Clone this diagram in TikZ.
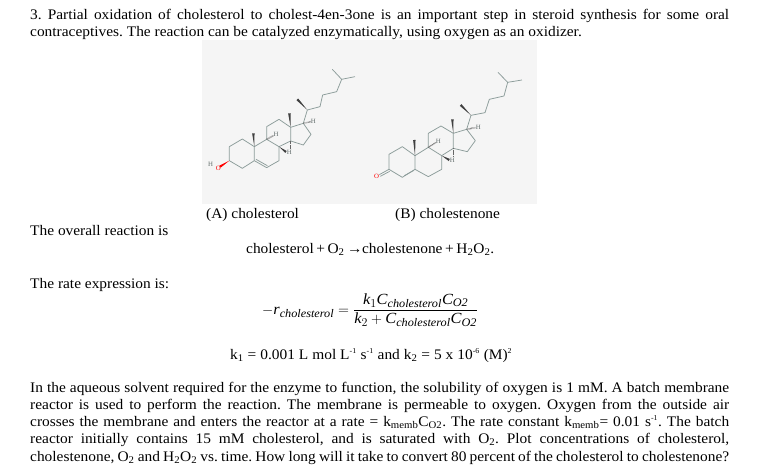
\documentclass[tikz,border=0pt]{standalone}
\usepackage{amsmath}
\usepackage{fontspec}
\setmainfont[FakeStretch=1.055]{Liberation Serif}
\usetikzlibrary{calc}

\DeclareMathSizes{15.5}{15.5}{11.6}{9}
\definecolor{panelgrey}{HTML}{F5F5F5}
\definecolor{bondgrey}{HTML}{8C9C9A}

\tikzset{
  txt/.style={anchor=base west,inner sep=0pt,font=\fontsize{14.6}{17}\selectfont},
  bond/.style={draw=bondgrey,line width=0.75pt,line join=round},
  hashbond/.style={draw=black!60,line width=1.4pt,dash pattern=on 0.5pt off 0.7pt},
  atom/.style={inner sep=0pt,font=\fontsize{6.5}{6.5}\selectfont}
}
\newcommand{\wedgebond}[3][black!75]{
  \fill[#1] (#2) -- ($(#3)!1.2pt!90:(#2)$) -- ($(#3)!1.2pt!-90:(#2)$) -- cycle;
}
\newcommand{\fitline}[3]{
  \node[txt] (#1) at (30,#2) {\makebox[699pt][s]{#3}};
}
\newcommand{\sub}[1]{\textsubscript{#1}}
\newcommand{\expo}[1]{\textsuperscript{\fontsize{7.5}{8}\selectfont #1}}
\frenchspacing

\begin{document}
\begin{tikzpicture}[x=1pt,y=-1pt]
  \useasboundingbox (0,0) rectangle (771,474);
  \fill[panelgrey] (202,40) rectangle (537,204);

  \fitline{l1}{19}{3. Partial oxidation of cholesterol to cholest-4en-3one is an important step in steroid synthesis for some oral}
  \node[txt] (l2) at (30,36) {contraceptives. The reaction can be catalyzed enzymatically, using oxygen as an oxidizer.};

  % cholesterol
  \begin{scope}[shift={(200,40)},x=0.3333pt,y=-0.3333pt]
  \draw[bond] (88,362) -- (127,385) -- (163,362) -- (163,320) -- (127,297) -- (88,320) -- cycle;
  \draw[bond] (163,362) -- (200,383) -- (237,362) -- (237,320) -- (200,298) -- (163,320);
  \draw[bond] (168,358) -- (202,377);
  \draw[bond] (200,298) -- (200,260) -- (237,238) -- (272,262) -- (272,303) -- (237,320);
  \draw[bond] (272,303) -- (310,315) -- (333,283) -- (310,250) -- (272,262);
  \draw[bond] (310,250) -- (322,210) -- (360,200) -- (368,165) -- (410,155) -- (425,118) -- (397,88);
  \draw[bond] (425,118) -- (465,110);
  \wedgebond{163,320}{160,280}
  \wedgebond{272,262}{268,220}
  \wedgebond{322,210}{292,178}
  \wedgebond{237,320}{258,336}
  \wedgebond[red]{88,362}{60,380}
  \draw[hashbond] (200,298) -- (220,287);
  \draw[hashbond] (272,303) -- (272,325);
  \draw[hashbond] (310,250) -- (332,245);
  \node[atom,text=bondgrey!70!black] (ha1) at (228,282) {H};
  \node[atom,text=bondgrey!70!black] (ha2) at (268,338) {H};
  \node[atom,text=bondgrey!70!black] (ha3) at (340,243) {H};
  \node[atom,text=bondgrey!70!black] (ha4) at (32,372) {H};
  \node[atom,text=red] (oa) at (55,385) {O};
  \end{scope}

  % cholestenone
  \begin{scope}[shift={(370,40)},x=0.3333pt,y=-0.3333pt]
  \draw[bond] (57,388) -- (97,412) -- (135,388) -- (135,347) -- (97,320) -- (57,343) -- cycle;
  \draw[bond] (135,388) -- (175,410) -- (215,388) -- (215,347) -- (175,322) -- (135,347);
  \draw[bond] (103,407) -- (132,391);
  \draw[bond] (57,388) -- (28,404);
  \draw[bond] (59,394) -- (31,409);
  \draw[bond] (175,322) -- (175,280) -- (213,258) -- (250,280) -- (250,325) -- (215,347);
  \draw[bond] (250,325) -- (292,335) -- (316,302) -- (290,268) -- (250,280);
  \draw[bond] (290,268) -- (303,226) -- (345,218) -- (358,178) -- (402,168) -- (413,127) -- (384,97);
  \draw[bond] (413,127) -- (456,120);
  \wedgebond{135,347}{133,300}
  \wedgebond{250,280}{247,238}
  \wedgebond{303,226}{272,195}
  \wedgebond{215,347}{238,360}
  \draw[hashbond] (175,322) -- (197,308);
  \draw[hashbond] (250,325) -- (250,350);
  \draw[hashbond] (290,268) -- (316,263);
  \node[atom,text=bondgrey!70!black] (hb1) at (205,303) {H};
  \node[atom,text=bondgrey!70!black] (hb2) at (247,362) {H};
  \node[atom,text=bondgrey!70!black] (hb3) at (325,262) {H};
  \node[atom,text=red] (ob) at (20,410) {O};
  \end{scope}

  \node[txt] (capa) at (206,218) {(A) cholesterol};
  \node[txt] (capb) at (395,218) {(B) cholestenone};
  \node[txt] (l3) at (30,235) {The overall reaction is};
  \node[txt] (react) at (246,253) {\makebox[248pt][s]{cholesterol + O\sub{2} →\hspace{-3pt} cholestenone + H\sub{2}O\sub{2}.}};
  \node[txt] (l4) at (30,288) {The rate expression is:};

  \node[txt,font=\fontsize{15.5}{18}\selectfont] (rate) at (262,314)
    {$-\textit{r}_{\textit{cholesterol}} = \dfrac{\textit{k}_1\textit{C}_{\textit{cholesterol}}\textit{C}_{\textit{O2}}}{\textit{k}_2 + \textit{C}_{\textit{cholesterol}}\textit{C}_{\textit{O2}}}$};

  \node[txt] (const) at (230,359) {\makebox[282pt][s]{k\sub{1} = 0.001 L mol L\expo{-1} s\expo{-1} and k\sub{2} = 5 x 10\expo{-6} (M)\expo{2}}};

  \fitline{p1}{392}{In the aqueous solvent required for the enzyme to function, the solubility of oxygen is 1 mM. A batch membrane}
  \fitline{p2}{409}{reactor is used to perform the reaction. The membrane is permeable to oxygen. Oxygen from the outside air}
  \fitline{p3}{426}{crosses the membrane and enters the reactor at a rate = k\sub{memb}C\sub{O2}. The rate constant k\sub{memb}= 0.01 s\expo{-1}. The batch}
  \fitline{p4}{443}{reactor initially contains 15 mM cholesterol, and is saturated with O\sub{2}. Plot concentrations of cholesterol,}
  \fitline{p5}{461}{cholestenone, O\sub{2} and H\sub{2}O\sub{2} vs. time. How long will it take to convert 80 percent of the cholesterol to cholestenone?}
\end{tikzpicture}
\end{document}
